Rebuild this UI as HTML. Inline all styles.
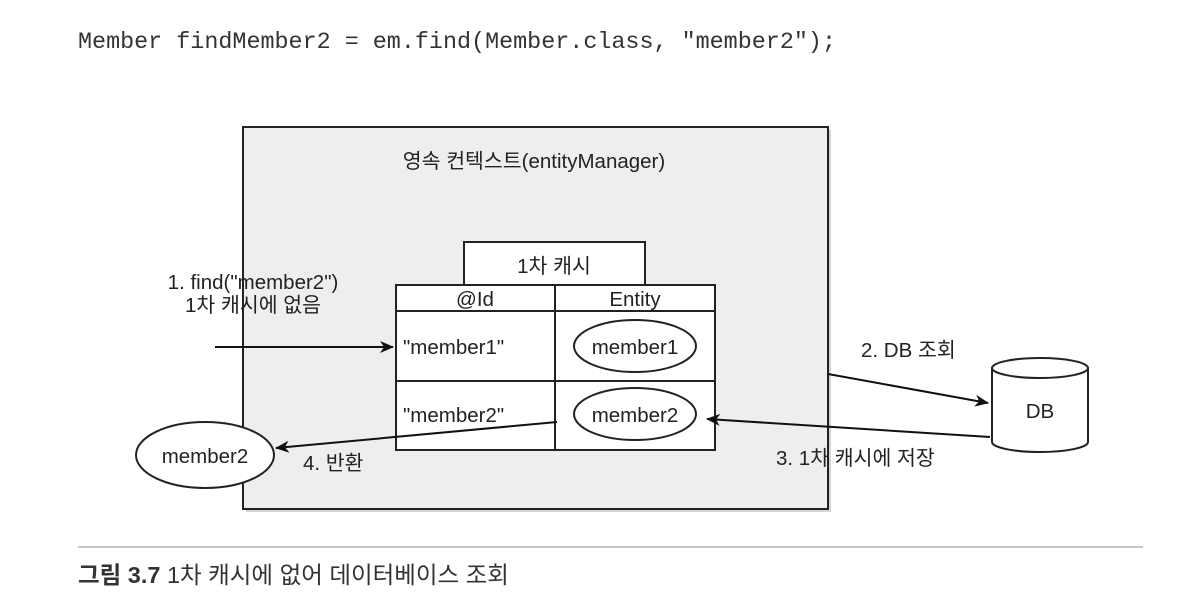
<!DOCTYPE html>
<html><head><meta charset="utf-8"><style>
body{margin:0;background:#fff;width:1204px;height:606px;overflow:hidden;position:relative;font-family:"Liberation Sans","Noto Sans CJK KR",sans-serif}
.t{position:absolute;white-space:nowrap;color:#222}
</style></head><body>
<div class="t" style="left:78px;top:30px;font-family:'Liberation Mono',monospace;font-size:23.4px;color:#333">Member findMember2 = em.find(Member.class, "member2");</div>
<svg width="1204" height="606" style="position:absolute;left:0;top:0" font-family="Liberation Sans, Noto Sans CJK KR, sans-serif" fill="#222">
<defs><marker id="a" markerWidth="14" markerHeight="12" refX="13" refY="6" orient="auto" markerUnits="userSpaceOnUse"><path d="M0,0 L14,6 L0,12 L4,6 Z" fill="#111"/></marker></defs>
<rect x="246" y="130" width="585" height="382" fill="#aaa" opacity="0.5"/>
<rect x="243" y="127" width="585" height="382" fill="#eeeeee" stroke="#222" stroke-width="2"/>
<text x="534" y="168" font-size="20.5" text-anchor="middle">영속 컨텍스트(entityManager)</text>
<rect x="464" y="242" width="181" height="43" fill="#fff" stroke="#222" stroke-width="2"/>
<text x="554" y="273" font-size="20.5" text-anchor="middle">1차 캐시</text>
<rect x="396" y="285" width="319" height="165" fill="#fff" stroke="#222" stroke-width="2"/>
<line x1="396" y1="311" x2="715" y2="311" stroke="#222" stroke-width="2"/>
<line x1="396" y1="381" x2="715" y2="381" stroke="#222" stroke-width="2"/>
<line x1="555" y1="285" x2="555" y2="450" stroke="#222" stroke-width="2"/>
<text x="475" y="306" font-size="20.5" text-anchor="middle">@Id</text>
<text x="635" y="306" font-size="20.5" text-anchor="middle">Entity</text>
<text x="403" y="354" font-size="20.5">"member1"</text>
<text x="403" y="422" font-size="20.5">"member2"</text>
<ellipse cx="635" cy="346" rx="61" ry="26" fill="#fff" stroke="#222" stroke-width="2"/>
<text x="635" y="354" font-size="20.5" text-anchor="middle">member1</text>
<ellipse cx="635" cy="414" rx="61" ry="26" fill="#fff" stroke="#222" stroke-width="2"/>
<text x="635" y="422" font-size="20.5" text-anchor="middle">member2</text>
<ellipse cx="205" cy="455" rx="69" ry="33" fill="#fff" stroke="#222" stroke-width="2"/>
<text x="205" y="463" font-size="20.5" text-anchor="middle">member2</text>
<text x="253" y="289" font-size="20.5" text-anchor="middle">1. find("member2")</text>
<text x="253" y="312" font-size="20.5" text-anchor="middle">1차 캐시에 없음</text>
<line x1="215" y1="347" x2="393" y2="347" stroke="#111" stroke-width="2" marker-end="url(#a)"/>
<line x1="828" y1="374" x2="988" y2="403" stroke="#111" stroke-width="2" marker-end="url(#a)"/>
<line x1="990" y1="437" x2="707" y2="419" stroke="#111" stroke-width="2" marker-end="url(#a)"/>
<line x1="557" y1="422" x2="276" y2="448" stroke="#111" stroke-width="2" marker-end="url(#a)"/>
<text x="861" y="357" font-size="20.5">2. DB 조회</text>
<text x="776" y="465" font-size="20.5">3. 1차 캐시에 저장</text>
<text x="303" y="470" font-size="20.5">4. 반환</text>
<path d="M992,368 L992,442 A48,10 0 0 0 1088,442 L1088,368" fill="#fff" stroke="#222" stroke-width="2"/>
<ellipse cx="1040" cy="368" rx="48" ry="10" fill="#fff" stroke="#222" stroke-width="2"/>
<text x="1040" y="418" font-size="20.5" text-anchor="middle">DB</text>
<line x1="78" y1="547" x2="1143" y2="547" stroke="#888" stroke-width="1"/>
<text x="78" y="583" font-size="23.5" fill="#333"><tspan font-weight="bold">그림 3.7</tspan> 1차 캐시에 없어 데이터베이스 조회</text>
</svg>
</body></html>
